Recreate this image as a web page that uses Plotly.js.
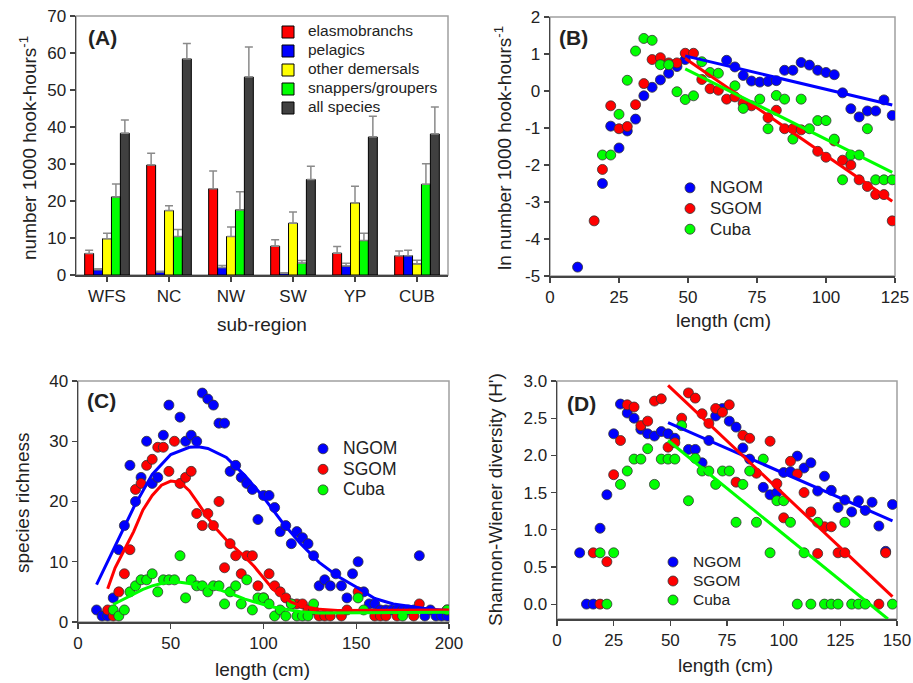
<!DOCTYPE html>
<html><head><meta charset="utf-8">
<script src="https://cdn.plot.ly/plotly-3.0.1.min.js"></script>
<style>body{margin:0;padding:0;background:#fff}#chart{width:913px;height:683px}</style>
</head><body><div id="chart"></div>
<script>
// ---------- Panel A data ----------
const regions = ['WFS','NC','NW','SW','YP','CUB'];
const groupNames = ['elasmobranchs','pelagics','other demersals','snappers/groupers','all species'];
const elasmo = [5.8, 29.7, 23.3, 7.8, 5.9, 5.2];
const elasmoErr = [0.9, 3.2, 4.8, 1.7, 1.8, 1.3];
const pelagic = [1.4, 0.8, 2.0, 0.5, 2.4, 5.2];
const pelagicErr = [0.3, 0.2, 0.6, 0.1, 0.8, 1.5];
const otherDem = [9.8, 17.4, 10.4, 14.0, 19.5, 3.0];
const otherDemErr = [1.5, 1.3, 2.6, 3.0, 4.5, 1.0];
const snapGroup = [21.1, 10.4, 17.6, 3.2, 9.3, 24.5];
const snapGroupErr = [3.5, 1.9, 4.9, 0.7, 2.0, 5.6];
const allSpecies = [38.3, 58.4, 53.5, 25.8, 37.3, 38.1];
const allSpeciesErr = [3.6, 4.2, 8.1, 3.6, 5.6, 7.3];

// ---------- Panel B data (ln catch rate vs length) ----------
const bNgomX = [10,19,22,25,28,31,34,37,40,43,46,49,64,67,70,73,76,79,82,85,88,91,94,97,100,103,106,109,112,115,118,121,124];
const bNgomY = [-4.76,-2.5,-0.95,-1.54,-1.08,-0.76,-0.13,0.1,0.3,0.48,0.66,0.85,0.83,0.65,0.42,0.27,0.24,0.26,0.28,0.56,0.56,0.77,0.7,0.56,0.5,0.44,-0.05,-0.48,-0.7,-0.54,-0.54,-0.24,-0.66];
const bSgomX = [16,19,22,25,28,31,34,37,40,43,46,49,52,55,58,61,64,67,70,73,79,82,85,88,91,97,100,103,106,109,112,115,118,121,124];
const bSgomY = [-3.51,-2.12,-0.4,-1.02,-0.96,-0.37,0.2,0.85,0.9,0.76,0.76,1.02,1.02,0.31,0.06,0.02,-0.22,-0.16,-0.33,-0.4,-0.72,-0.52,-1.02,-1.02,-1.05,-1.63,-1.79,-1.35,-1.87,-2.0,-2.4,-2.58,-2.8,-2.8,-3.51];
const bCubaX = [19,22,25,28,31,34,37,40,43,46,49,52,55,58,61,67,70,76,79,82,85,88,91,94,97,100,103,106,109,112,115,118,121,124];
const bCubaY = [-1.73,-1.73,-0.63,0.29,1.08,1.42,1.37,0.71,0.71,-0.02,-0.23,-0.13,0.79,0.5,0.48,0.14,-0.47,-0.22,-1.02,-0.12,-0.22,-1.3,-0.22,-1.02,-0.8,-0.8,-1.3,-2.4,-1.73,-1.73,-1.02,-2.4,-2.4,-2.4];
const bFitX = [49, 124];
const bFitNgom = [0.95, -0.38];
const bFitSgom = [0.88, -2.98];
const bFitCuba = [0.6, -2.2];
const bTickVals = [-5,-4,-3,-2,-1,0,1,2];
const bTickText = ['-5','-4','-3','-2','-1','0','1','2'];

// ---------- Panel C data (species richness) ----------
const cNgomX = [10,13,16,19,22,25,28,31,34,37,40,43,46,49,55,58,61,64,67,70,73,76,79,82,85,88,91,94,97,100,103,106,109,112,115,118,121,124,127,130,133,136,139,142,145,148,151,154,157,160,163,166,169,172,175,178,181,184,187,190,193,196,199];
const cNgomY = [2,1,1,4,12,16,26,20,24,30,23,24,31,36,34,30,31,30,38,37,36,33,33,25,26,24,23,22,17,21,21,19,15,16,13,15,14,13,11,6,7,6,8,6,4,8,10,5,3,3,2,2,2,2,2,2,2,11,1,2,1,1,1];
const cSgomX = [16,19,22,25,28,31,34,37,40,43,46,49,52,55,58,61,64,67,70,73,76,79,82,85,88,91,94,97,100,103,106,109,112,115,118,121,124,127,130,133,136,142,145,151,160,163,166,172,181,184,199];
const cSgomY = [2,1,5,8,12,22,23,26,27,29,29,25,30,23,24,25,18,16,18,16,20,9,13,11,8,11,11,6,4,8,6,5,4,3,3,3,2,2,1,1,1,1,2,5,1,1,1,1,1,3,2];
const cCubaX = [19,22,25,28,31,34,37,40,43,46,49,52,55,58,61,64,67,70,73,76,79,82,85,88,91,94,97,100,103,106,109,112,115,118,121,124,127,151,154,175,199];
const cCubaY = [2,1,2,5,6,7,7,8,5,7,7,7,11,4,7,6,6,5,6,6,3,5,6,3,7,2,4,4,3,1,2,1,3,1,1,1,3,4,2,1,2];
const cNgomFitX = [10,20,30,40,50,60,65,70,80,90,100,110,120,130,140,150,160,170,180,190,200];
const cNgomFitY = [6.2,12.6,19,24.5,27.8,29,29.1,28.8,27.3,24.3,20.7,16.6,13,9.9,7.6,5.8,3.9,3.0,2.5,2.1,1.9];
const cSgomFitX = [16,20,25,30,35,40,45,50,55,60,65,70,75,80,85,90,95,100,105,110,115,120,130,140,160,180,200];
const cSgomFitY = [5.5,9,12,15,18.6,21,22.7,23.4,23.2,21.8,19.6,17.3,15.3,13.6,12.2,10.8,9.2,7.3,5.5,4.2,3.3,2.7,2.1,1.9,1.9,1.9,2.0];
const cCubaFitX = [19,25,30,35,40,45,50,55,60,65,70,75,80,85,90,95,100,105,110,115,120,130,150,175,200];
const cCubaFitY = [2.9,3.8,4.6,5.4,6.0,6.4,6.6,6.6,6.4,6.2,5.9,5.5,5.0,4.4,3.8,3.3,2.9,2.5,2.2,1.9,1.7,1.5,1.5,1.5,1.6];

// ---------- Panel D data (Shannon-Wiener) ----------
const dNgomX = [10,13,16,19,22,25,28,31,34,37,40,43,46,49,52,58,61,64,67,70,73,76,79,82,85,91,94,97,100,103,106,109,112,115,118,121,124,127,130,133,136,139,142,145,148];
const dNgomY = [0.69,0,0,1.02,1.47,2.29,2.69,2.57,2.5,2.35,2.29,2.26,2.32,2.29,2.23,2.08,2.08,1.9,2.2,2.53,2.63,2.46,2.38,2.1,1.95,1.57,1.47,1.5,1.77,1.78,1.99,1.83,1.9,1.52,1.72,1.53,1.3,1.4,1.24,1.39,1.26,1.37,1.05,0.71,1.34];
const dSgomX = [16,19,22,25,28,31,34,37,40,43,46,49,52,55,58,61,64,67,70,73,76,79,82,85,88,94,97,100,103,106,109,112,115,118,121,124,127,142,145];
const dSgomY = [0.69,0,0.57,1.74,2.2,2.68,2.65,2.4,2.46,2.73,2.76,2.11,2.17,2.5,2.84,2.77,2.56,2.43,2.63,2.58,2.68,1.64,2.27,2.23,1.76,2.19,1.62,1.16,1.92,1.75,1.5,1.24,0.68,1.04,1.04,0.69,0.69,0,0.69];
const dCubaX = [19,22,25,28,31,34,37,40,43,46,49,52,55,58,61,64,67,70,73,76,79,82,85,88,91,94,97,100,103,106,109,112,115,118,121,124,127,130,133,136,148];
const dCubaY = [0.69,0,0.69,1.61,1.79,1.95,1.95,2.09,1.61,1.95,1.95,1.95,2.4,1.39,1.96,1.79,1.79,1.61,1.79,1.79,1.1,1.61,1.79,1.1,1.95,0.69,1.39,1.39,1.1,0,0.69,0,1.1,0,0,0,1.1,0,0,0,0];
const dFitX = [49, 148];
const dFitNgom = [2.44, 1.12];
const dFitSgom = [2.94, 0.10];
const dFitCubaX = [49, 146];
const dFitCuba = [2.20, -0.2];
const dTickVals = [0, 0.5, 1, 1.5, 2, 2.5, 3];

const seriesNames = ['NGOM','SGOM','Cuba'];
const seriesColors = ['#0000ff','#ff0000','#00ff00'];
const barColors = ['#ff0000','#0000ff','#ffff00','#00ff00','#404040'];

// ---------- build ----------
const W = 913, H = 683;
const px = v => v / W;
const py = v => 1 - v / H;
const FONT = 'Liberation Sans, Arial, sans-serif';
const zeros = regions.map(() => 0);
const sized = (t, s) => '<span style="font-size:' + s + 'px">' + t + '</span>';

const traces = [];
const barVals = [elasmo, pelagic, otherDem, snapGroup, allSpecies];
const barErrs = [elasmoErr, pelagicErr, otherDemErr, snapGroupErr, allSpeciesErr];
barVals.forEach((vals, i) => {
  traces.push({
    type: 'bar', x: regions, y: vals, name: sized(groupNames[i], 15.5),
    xaxis: 'x', yaxis: 'y', legend: 'legend',
    marker: {color: barColors[i], line: {color: '#000', width: 1}},
    error_y: {type: 'data', symmetric: false, array: barErrs[i], arrayminus: zeros,
              color: '#8a8a8a', thickness: 1.5, width: 4}
  });
});

function scatterSet(xs, ys, ax, lg, fs) {
  xs.forEach((x, i) => {
    traces.push({
      type: 'scatter', mode: 'markers', x: x, y: ys[i], name: sized(seriesNames[i], fs),
      xaxis: 'x' + ax, yaxis: 'y' + ax, legend: lg,
      marker: {color: seriesColors[i], size: 10, line: {color: '#333', width: 0.8}}
    });
  });
}
function lineSet(xs, ys, ax) {
  xs.forEach((x, i) => {
    traces.push({
      type: 'scatter', mode: 'lines', x: x, y: ys[i], showlegend: false,
      xaxis: 'x' + ax, yaxis: 'y' + ax, hoverinfo: 'skip',
      line: {color: seriesColors[i], width: 3}
    });
  });
}
scatterSet([bNgomX, bSgomX, bCubaX], [bNgomY, bSgomY, bCubaY], 2, 'legend2', 17);
lineSet([bFitX, bFitX, bFitX], [bFitNgom, bFitSgom, bFitCuba], 2);
scatterSet([cNgomX, cSgomX, cCubaX], [cNgomY, cSgomY, cCubaY], 3, 'legend3', 17.5);
lineSet([cNgomFitX, cSgomFitX, cCubaFitX], [cNgomFitY, cSgomFitY, cCubaFitY], 3);
scatterSet([dNgomX, dSgomX, dCubaX], [dNgomY, dSgomY, dCubaY], 4, 'legend4', 15.5);
lineSet([dFitX, dFitX, dFitCubaX], [dFitNgom, dFitSgom, dFitCuba], 4);

const axBase = {
  showgrid: false, zeroline: false, showline: true, linecolor: '#444', linewidth: 1.5,
  ticks: 'outside', ticklen: 5, tickwidth: 1.2, tickcolor: '#444',
  tickfont: {family: FONT, size: 17, color: '#222'}, automargin: false, fixedrange: true
};
const ax = o => Object.assign({}, axBase, o);
const legBase = (x, y, size) => ({x: px(x), y: py(y), xanchor: 'left', yanchor: 'top',
  bgcolor: 'rgba(0,0,0,0)', font: {family: FONT, size: size, color: '#222'}, tracegroupgap: 0});

const layout = {
  width: W, height: H, margin: {l: 0, r: 0, t: 0, b: 0},
  paper_bgcolor: '#fff', plot_bgcolor: '#fff',
  font: {family: FONT, color: '#222'},
  barmode: 'group', bargap: 0.28, bargroupgap: 0,
  xaxis: ax({domain: [px(76), px(448)], anchor: 'y', type: 'category'}),
  yaxis: ax({domain: [py(275), py(16)], anchor: 'x', range: [0, 70], dtick: 10}),
  xaxis2: ax({domain: [px(550), px(895)], anchor: 'y2', range: [0, 125], dtick: 25}),
  yaxis2: ax({domain: [py(276), py(17)], anchor: 'x2', range: [-5, 2], tickvals: bTickVals, ticktext: bTickText}),
  xaxis3: ax({domain: [px(78), px(449)], anchor: 'y3', range: [0, 200], dtick: 50}),
  yaxis3: ax({domain: [py(622), py(381)], anchor: 'x3', range: [0, 40], dtick: 10}),
  xaxis4: ax({domain: [px(557), px(897)], anchor: 'y4', range: [0, 150], dtick: 25}),
  yaxis4: ax({domain: [py(619), py(381)], anchor: 'x4', range: [-0.2, 3.0], tickvals: dTickVals, tickformat: '.1f'}),
  legend: legBase(268, 17.5, 11),
  legend2: legBase(670, 172.5, 13.6),
  legend3: legBase(303, 433.5, 13.5),
  legend4: legBase(653, 547.5, 12.3),
  shapes: ['', '2', '3', '4'].map(s => ({
    type: 'rect', xref: 'x' + s + ' domain', yref: 'y' + s + ' domain',
    x0: 0, x1: 1, y0: 0, y1: 1, line: {color: '#a0a0a0', width: 1.5}, layer: 'below'
  })),
  annotations: [
    {text: '<b>(A)</b>', x: px(86), y: py(37)},
    {text: '<b>(B)</b>', x: px(557), y: py(37)},
    {text: '<b>(C)</b>', x: px(85), y: py(400)},
    {text: '<b>(D)</b>', x: px(565), y: py(403)},
  ].map(a => Object.assign({xref: 'paper', yref: 'paper', xanchor: 'left', yanchor: 'middle',
        showarrow: false, font: {family: FONT, size: 21, color: '#222'}}, a)).concat([
    {text: 'number 1000 hook-hours<sup>-1</sup>', x: px(28), y: py(148), textangle: -90},
    {text: 'sub-region', x: px(262), y: py(324)},
    {text: 'ln number 1000 hook-hours<sup>-1</sup>', x: px(503), y: py(148), textangle: -90},
    {text: 'length (cm)', x: px(723), y: py(320)},
    {text: 'species richness', x: px(22), y: py(503), textangle: -90},
    {text: 'length (cm)', x: px(262), y: py(669)},
    {text: 'Shannon-Wiener diversity (H\')', x: px(495), y: py(500), textangle: -90},
    {text: 'length (cm)', x: px(725), y: py(665)},
  ].map(a => Object.assign({xref: 'paper', yref: 'paper', xanchor: 'center', yanchor: 'middle',
        showarrow: false, font: {family: FONT, size: 19, color: '#222'}}, a)))
};

Plotly.newPlot('chart', traces, layout, {displayModeBar: false, staticPlot: true});
</script>
</body></html>
